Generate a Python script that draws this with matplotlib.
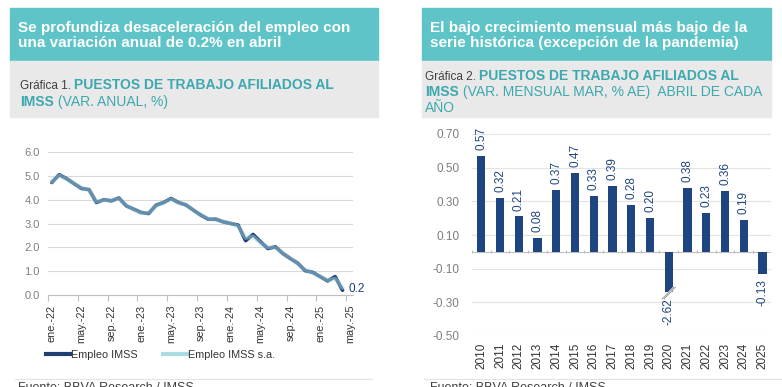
import matplotlib
matplotlib.use('Agg')
import matplotlib.pyplot as plt
import numpy as np
from matplotlib.patches import Rectangle, Polygon
from matplotlib.lines import Line2D

plt.rcParams['font.family'] = ['Liberation Sans', 'DejaVu Sans']

W, H = 782, 387

# ---- data, chart 1 (monthly, ene-22 .. abr-25)
tick_labels = ['ene.-22', 'may.-22', 'sep.-22', 'ene.-23', 'may.-23', 'sep.-23',
               'ene.-24', 'may.-24', 'sep.-24', 'ene.-25', 'may.-25']
empleo = [4.72, 5.05, 4.88, 4.67, 4.47, 4.42, 3.88, 4.00, 3.95, 4.07,
          3.74, 3.60, 3.46, 3.42, 3.77, 3.88, 4.05, 3.88, 3.78, 3.56,
          3.35, 3.18, 3.18, 3.07, 3.00, 2.93, 2.28, 2.54, 2.23, 1.95,
          2.02, 1.74, 1.53, 1.33, 1.02, 0.95, 0.77, 0.59, 0.77, 0.20]
empleo_sa = [4.75, 5.02, 4.86, 4.68, 4.50, 4.40, 3.92, 3.98, 3.97, 4.04,
             3.76, 3.58, 3.44, 3.45, 3.74, 3.86, 4.02, 3.86, 3.80, 3.55,
             3.37, 3.20, 3.16, 3.08, 3.01, 2.88, 2.40, 2.45, 2.18, 2.00,
             1.98, 1.76, 1.55, 1.30, 1.06, 0.92, 0.78, 0.62, 0.68, 0.30]

# ---- data, chart 2 (april of each year)
years = ['2010', '2011', '2012', '2013', '2014', '2015', '2016', '2017',
         '2018', '2019', '2020', '2021', '2022', '2023', '2024', '2025']
mensual = [0.57, 0.32, 0.21, 0.08, 0.37, 0.47, 0.33, 0.39,
           0.28, 0.20, -2.62, 0.38, 0.23, 0.36, 0.19, -0.13]
cut = -0.24  # axis break for 2020

TEAL = '#5FC4C7'
GRAYBOX = '#E9E9E9'
TEALTXT = '#3DA8AE'
NAVY = '#1F3F73'
BAR = '#1F4580'
LIGHT = '#A9DDE3'
TICK = '#7F7F7F'
GRID = '#D9D9D9'

fig = plt.figure(figsize=(W / 100, H / 100), dpi=100)


def fx(x):
    return x / W


def fy(y):
    return 1 - y / H


def box(x0, y0, x1, y1, color):
    fig.patches.append(Rectangle((fx(x0), fy(y1)), fx(x1) - fx(x0), fy(y0) - fy(y1),
                                 transform=fig.transFigure, color=color, zorder=0))


def rich(x, y, parts):
    r = fig.canvas.get_renderer()
    for s, w, c, fs in parts:
        t = fig.text(fx(x), fy(y), s, fontweight=w, color=c, fontsize=fs,
                     ha='left', va='baseline')
        x += t.get_window_extent(renderer=r).width


# headers
box(10, 8, 378, 61, TEAL)
box(10, 61, 378, 117, GRAYBOX)
box(422, 8, 771, 61, TEAL)
box(422, 61, 771, 117, GRAYBOX)

fig.text(fx(18), fy(32), 'Se profundiza desaceleración del empleo con', color='white',
         fontweight='bold', fontsize=11, va='baseline')
fig.text(fx(18), fy(47), 'una variación anual de 0.2% en abril', color='white',
         fontweight='bold', fontsize=11, va='baseline')
fig.text(fx(430), fy(32), 'El bajo crecimiento mensual más bajo de la', color='white',
         fontweight='bold', fontsize=11, va='baseline')
fig.text(fx(430), fy(47), 'serie histórica (excepción de la pandemia)', color='white',
         fontweight='bold', fontsize=11, va='baseline')

rich(20, 89, [('Gráfica 1. ', 'normal', '#404040', 8.5),
              ('PUESTOS DE TRABAJO AFILIADOS AL', 'bold', TEALTXT, 10)])
rich(20, 106, [('IMSS', 'bold', TEALTXT, 10), (' (VAR. ANUAL, %)', 'normal', TEALTXT, 10)])
rich(425, 80, [('Gráfica 2. ', 'normal', '#404040', 8.5),
               ('PUESTOS DE TRABAJO AFILIADOS AL', 'bold', TEALTXT, 10)])
rich(425, 96, [('IMSS', 'bold', TEALTXT, 10),
               (' (VAR. MENSUAL MAR, % AE)  ABRIL DE CADA', 'normal', TEALTXT, 10)])
rich(425, 112, [('AÑO', 'normal', TEALTXT, 10)])

# footers (cut at the bottom edge, as in the source image)
fig.add_artist(Line2D([fx(15), fx(372)], [fy(379), fy(379)], color='#E3E3E3', lw=0.8,
                      transform=fig.transFigure))
fig.add_artist(Line2D([fx(424), fx(782)], [fy(379), fy(379)], color='#E3E3E3', lw=0.8,
                      transform=fig.transFigure))
fig.text(fx(18), fy(391), 'Fuente: BBVA Research / IMSS', color='#404040', fontsize=9)
fig.text(fx(430), fy(391), 'Fuente: BBVA Research / IMSS', color='#404040', fontsize=9)

# ---- chart 1
ax1 = fig.add_axes([fx(48), fy(295), fx(353) - fx(48), fy(152) - fy(295)])
x = np.arange(len(empleo))
ax1.plot(x, empleo, color=NAVY, lw=2.6, zorder=3, solid_capstyle='round')
ax1.plot(x, empleo_sa, color=LIGHT, lw=3.0, alpha=0.5, zorder=4, solid_capstyle='round')
ax1.annotate(f'{empleo[-1]:.1f}', (x[-1], empleo[-1]), xytext=(4, 1), textcoords='offset points',
             fontsize=8.5, color=NAVY, va='center', ha='left')
ax1.set_ylim(0, 6)
ax1.set_xlim(-0.5, 40.4)
ax1.set_yticks(np.arange(0, 7, 1))
ax1.set_yticklabels([f'{v:.1f}' for v in np.arange(0, 7, 1)])
ax1.set_xticks(np.arange(0, 41, 4))
ax1.set_xticklabels(tick_labels, rotation=90)
ax1.set_xticks(np.arange(-0.5, 40, 4), minor=True)
ax1.tick_params(axis='x', which='major', length=0, pad=7, labelsize=7.8, labelcolor='#333333')
ax1.tick_params(axis='x', which='minor', length=4, color='#BFBFBF', width=0.8)
ax1.tick_params(axis='y', length=0, labelsize=8, labelcolor=TICK, pad=6)
ax1.grid(axis='y', color=GRID, lw=0.8)
ax1.set_axisbelow(True)
for s in ['top', 'right', 'left']:
    ax1.spines[s].set_visible(False)
ax1.spines['bottom'].set_color('#BFBFBF')
ax1.spines['bottom'].set_linewidth(0.8)

handles = [Line2D([], [], color=NAVY, lw=3), Line2D([], [], color=LIGHT, lw=3)]
fig.legend(handles, ['Empleo IMSS', 'Empleo IMSS s.a.'], loc='center left',
           bbox_to_anchor=(fx(36), fy(355)), ncol=2, frameon=False, fontsize=7.8,
           handlelength=2.2, handletextpad=0.1, columnspacing=2.4, labelcolor='#333333')

# ---- chart 2
ax2 = fig.add_axes([fx(472), fy(336), fx(771) - fx(472), fy(134) - fy(336)])
xb = np.arange(len(years))
vals = np.array(mensual)
shown = np.maximum(vals, cut)
ax2.bar(xb, shown, width=0.44, color=BAR, zorder=3)
for i, v in enumerate(vals):
    if v >= 0:
        ax2.text(xb[i], shown[i] + 0.035, f'{v:.2f}', rotation=90, ha='center', va='bottom',
                 fontsize=8.5, color=BAR)
    else:
        ax2.text(xb[i], shown[i] - 0.035, f'{v:.2f}', rotation=90, ha='center', va='top',
                 fontsize=8.5, color=BAR)
# break mark on the clipped bar
for i in np.where(vals < cut)[0]:
    gap = Polygon([(i - 0.35, cut - 0.04), (i + 0.25, cut + 0.03),
                   (i + 0.35, cut + 0.03), (i - 0.25, cut - 0.04)],
                  closed=True, color='white', zorder=4)
    ax2.add_patch(gap)
    for dx in (-0.05, 0.05):
        ax2.plot([i - 0.3 + dx, i + 0.3 + dx], [cut - 0.04, cut + 0.03], color='#9A9A9A',
                 lw=0.7, zorder=5)
ax2.axhline(0, color='#BFBFBF', lw=0.8, zorder=2)
ax2.vlines(np.arange(-0.5, len(years), 1), -0.008, 0.008, color='#BFBFBF', lw=0.8, zorder=2)
ax2.set_ylim(-0.5, 0.7)
ax2.set_xlim(-0.5, 15.45)
yt = np.arange(-0.5, 0.71, 0.2)
ax2.set_yticks(yt)
ax2.set_yticklabels([f'{v:.2f}' for v in yt])
ax2.set_xticks(xb)
ax2.set_xticklabels(years, rotation=90)
ax2.tick_params(axis='x', length=0, pad=5, labelsize=8.5, labelcolor='#333333')
ax2.tick_params(axis='y', length=0, labelsize=8.5, labelcolor=TICK, pad=9)
ax2.grid(axis='y', color='#E3E3E3', lw=0.8)
ax2.set_axisbelow(True)
for s in ax2.spines.values():
    s.set_visible(False)

fig.savefig('out.png', dpi=100)
